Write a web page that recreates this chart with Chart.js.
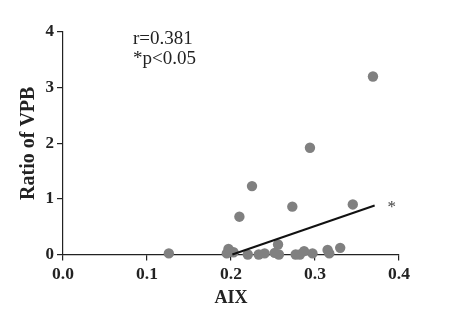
<!DOCTYPE html>
<html>
<head>
<meta charset="utf-8">
<script src="https://cdn.jsdelivr.net/npm/chart.js@4"></script>
<style>
  html, body { margin: 0; padding: 0; background: #fff; }
  #wrap { width: 455px; height: 325px; }
</style>
</head>
<body>
<div id="wrap"><canvas id="c" width="455" height="325"></canvas></div>
<script>
// AIX vs ratio of VPB, one point per subject
const aix = [0.126, 0.369, 0.294, 0.225, 0.210, 0.273, 0.345, 0.256, 0.330,
             0.197, 0.195, 0.203, 0.220, 0.233, 0.240, 0.252, 0.257, 0.277,
             0.282, 0.287, 0.297, 0.315, 0.317];
const vpb = [0.02, 3.20, 1.92, 1.23, 0.68, 0.86, 0.90, 0.18, 0.12,
             0.10, 0.02, 0.04, 0.00, 0.00, 0.02, 0.03, 0.00, 0.00,
             0.00, 0.06, 0.02, 0.08, 0.02];
// Fitted regression line endpoints
const fitX = [0.2016, 0.371];
const fitY = [0.0, 0.88];
const xTicks = [0.0, 0.1, 0.2, 0.3, 0.4];
const yTicks = [0, 1, 2, 3, 4];
const statLines = ['r=0.381', '*p<0.05'];

const serif = '"Liberation Serif", "Times New Roman", serif';
const axisColor = '#222';

const notes = {
  id: 'notes',
  afterDatasetsDraw(chart) {
    const ctx = chart.ctx;
    const xs = chart.scales.x, ys = chart.scales.y;
    ctx.save();
    ctx.fillStyle = '#222';
    ctx.font = '19px ' + serif;
    ctx.textBaseline = 'middle';
    ctx.textAlign = 'left';
    ctx.fillText(statLines[0], 133, 39);
    ctx.fillText(statLines[1], 133, 59);
    // significance marker beside the fitted line
    ctx.fillStyle = '#444';
    ctx.font = '17px ' + serif;
    ctx.textAlign = 'center';
    ctx.fillText('*', xs.getPixelForValue(fitX[1]) + 17, ys.getPixelForValue(fitY[1]) + 2);
    ctx.restore();
  }
};

new Chart(document.getElementById('c'), {
  type: 'scatter',
  data: {
    datasets: [
      {
        data: aix.map((v, i) => ({ x: v, y: vpb[i] })),
        backgroundColor: '#808080',
        borderColor: '#808080',
        borderWidth: 0,
        pointRadius: 5.2,
        pointHoverRadius: 5.2,
        order: 2
      },
      {
        type: 'line',
        data: fitX.map((v, i) => ({ x: v, y: fitY[i] })),
        borderColor: '#111',
        borderWidth: 2,
        pointRadius: 0,
        fill: false,
        order: 1
      }
    ]
  },
  options: {
    responsive: false,
    animation: false,
    clip: false,
    layout: { padding: { top: 32, right: 56, left: 17, bottom: 16 } },
    plugins: { legend: { display: false }, tooltip: { enabled: false } },
    scales: {
      x: {
        type: 'linear',
        min: 0, max: 0.4,
        afterBuildTicks(s) { s.ticks = xTicks.map(v => ({ value: v })); },
        afterFit(s) { s.height = 54.5; },
        border: { display: true, color: axisColor, width: 1.2 },
        grid: { drawOnChartArea: false, drawTicks: true, tickLength: 6, color: axisColor, lineWidth: 1.2 },
        ticks: {
          color: '#222', padding: 3,
          font: { family: serif, size: 17.5, weight: 'bold' },
          callback: v => v.toFixed(1)
        },
        title: {
          display: true, text: 'AIX', color: '#222',
          font: { family: serif, size: 18, weight: 'bold' },
          padding: { top: 0, bottom: 0 }
        }
      },
      y: {
        type: 'linear',
        min: 0, max: 4,
        afterBuildTicks(s) { s.ticks = yTicks.map(v => ({ value: v })); },
        afterFit(s) { s.width = 46; },
        border: { display: true, color: axisColor, width: 1.2 },
        grid: { drawOnChartArea: false, drawTicks: true, tickLength: 6, color: axisColor, lineWidth: 1.2 },
        ticks: {
          color: '#222', padding: 3,
          font: { family: serif, size: 17, weight: 'bold' }
        },
        title: {
          display: true, text: 'Ratio of VPB', color: '#222',
          font: { family: serif, size: 20, weight: 'bold' },
          padding: { top: 0, bottom: 0 }
        }
      }
    }
  },
  plugins: [notes]
});
</script>
</body>
</html>
